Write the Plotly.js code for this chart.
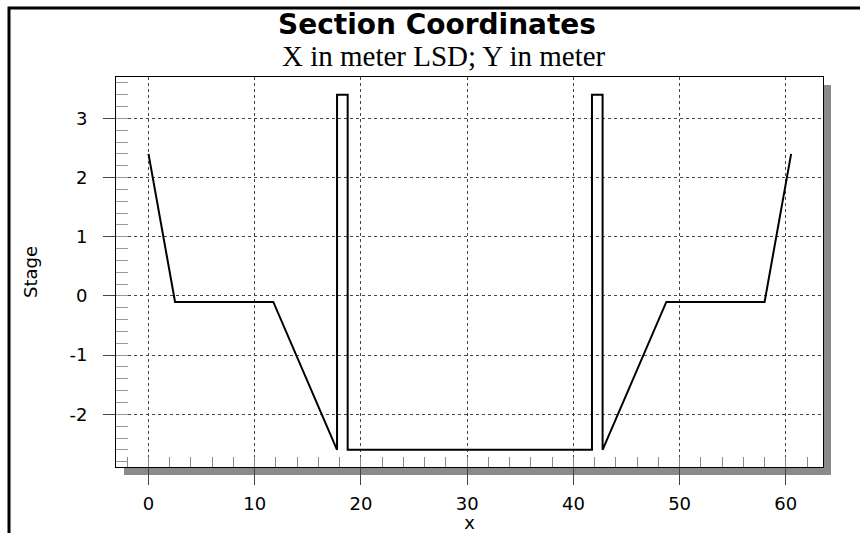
<!DOCTYPE html>
<html>
<head>
<meta charset="utf-8">
<script src="https://cdn.plot.ly/plotly-3.0.1.min.js"></script>
<style>html,body{margin:0;padding:0;background:#fff;}#chart{width:860px;height:533px;}</style>
</head>
<body>
<div id="chart"></div>
<script>
// Section coordinates (x in meter LSD, stage in meter)
const sectionX = [0, 2.5, 11.75, 17.75, 17.75, 18.75, 18.75, 41.75, 41.75, 42.75, 42.75, 48.75, 58, 60.5];
const sectionY = [2.4, -0.1, -0.1, -2.6, 3.4, 3.4, -2.6, -2.6, 3.4, 3.4, -2.6, -0.1, -0.1, 2.4];
const xTickVals = [0, 10, 20, 30, 40, 50, 60];
const yTickVals = [-2, -1, 0, 1, 2, 3];
const titleText = "Section Coordinates";
const subtitleText = "X in meter LSD; Y in meter";
const xTitle = "x";
const yTitle = "Stage";

const W = 860, H = 533;
const M = {l: 116, r: 37, t: 77, b: 66};
const pw = W - M.l - M.r, ph = H - M.t - M.b;
const px = v => (v - M.l) / pw;          // pixel x -> paper
const py = v => (H - M.b - v) / ph;      // pixel y -> paper

const SANS = 'DejaVu Sans, Arial, sans-serif';

const trace = {
  x: sectionX, y: sectionY, type: 'scatter', mode: 'lines',
  line: {color: '#000', width: 2}, hoverinfo: 'x+y', showlegend: false
};

const layout = {
  width: W, height: H,
  margin: M,
  paper_bgcolor: '#fff', plot_bgcolor: '#fff',
  font: {family: SANS, color: '#000', size: 18},
  showlegend: false,
  xaxis: {
    range: [-3.06, 63.5], tickvals: xTickVals, ticktext: xTickVals.map(String),
    showgrid: true, gridcolor: '#444', griddash: 'dot', gridwidth: 1,
    zeroline: false, showline: true, mirror: true, linecolor: '#000', linewidth: 1,
    ticks: 'outside', ticklen: 17, tickcolor: '#444', tickwidth: 1,
    ticklabelstandoff: 3,
    tickfont: {family: SANS, size: 18},
    minor: {ticks: 'inside', dtick: 2, tick0: 0, ticklen: 10, tickcolor: '#888', tickwidth: 1, showgrid: false},
    title: {text: xTitle, font: {family: SANS, size: 18}, standoff: 4}
  },
  yaxis: {
    range: [-2.89, 3.70], tickvals: yTickVals, ticktext: yTickVals.map(String),
    showgrid: true, gridcolor: '#444', griddash: 'dot', gridwidth: 1,
    zeroline: false, showline: true, mirror: true, linecolor: '#000', linewidth: 1,
    ticks: 'outside', ticklen: 12, tickcolor: '#444', tickwidth: 1,
    ticklabelstandoff: 12,
    tickfont: {family: SANS, size: 18},
    minor: {ticks: 'inside', dtick: 0.2, tick0: 0, ticklen: 12, tickcolor: '#999', tickwidth: 1, showgrid: false},
    title: {text: yTitle, font: {family: SANS, size: 18}, standoff: 27}
  },
  shapes: [
    // drop shadow right
    {type: 'rect', xref: 'paper', yref: 'paper', layer: 'below',
     x0: 1, x1: px(M.l + pw + 8), y0: py(H - M.b + 8), y1: py(M.t + 8),
     fillcolor: '#8a8a8a', line: {width: 0}},
    // drop shadow bottom
    {type: 'rect', xref: 'paper', yref: 'paper', layer: 'below',
     x0: px(M.l + 8), x1: px(M.l + pw + 8), y0: py(H - M.b + 8), y1: 0,
     fillcolor: '#8a8a8a', line: {width: 0}},
    // outer frame
    {type: 'rect', xref: 'paper', yref: 'paper', layer: 'below',
     x0: px(9), x1: px(900), y0: py(560), y1: py(8),
     line: {color: '#000', width: 3}, fillcolor: 'rgba(0,0,0,0)'}
  ],
  annotations: [
    {text: '<b>' + titleText + '</b>', xref: 'paper', yref: 'paper',
     x: px(437), y: py(24), xanchor: 'center', yanchor: 'middle', showarrow: false,
     font: {family: SANS, size: 28, color: '#000'}},
    {text: subtitleText, xref: 'paper', yref: 'paper',
     x: px(444), y: py(56), xanchor: 'center', yanchor: 'middle', showarrow: false,
     font: {family: 'Liberation Serif, Times New Roman, serif', size: 29, color: '#000'}}
  ]
};

Plotly.newPlot('chart', [trace], layout, {displayModeBar: false, staticPlot: true});
</script>
</body>
</html>
